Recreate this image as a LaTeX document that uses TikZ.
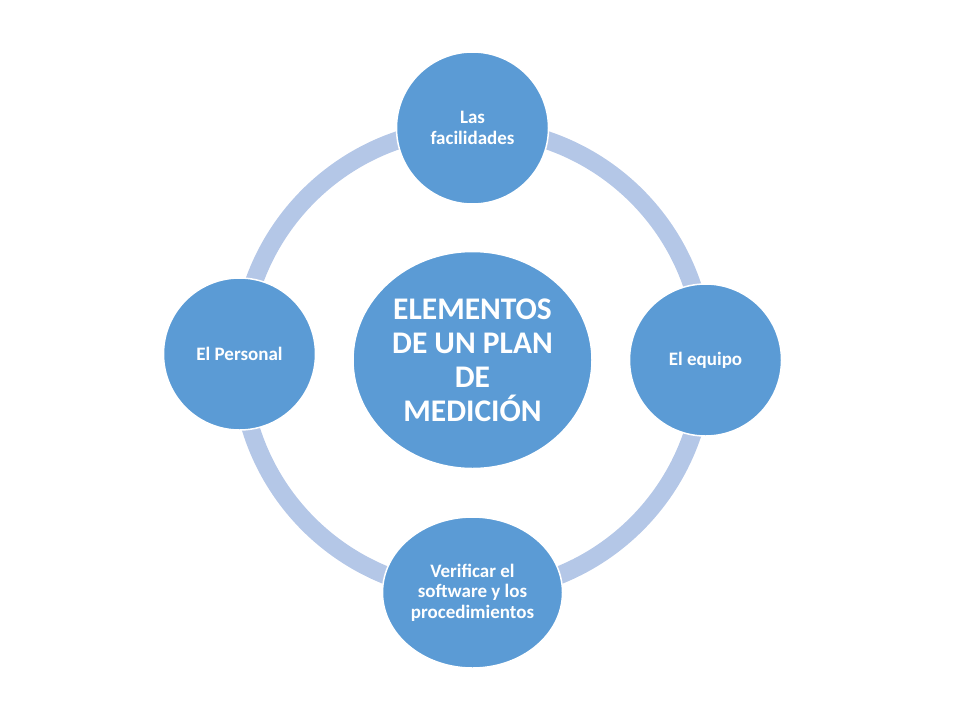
\documentclass[tikz,border=0pt]{standalone}
\usepackage{fontspec}
\setmainfont{Carlito}
\usepackage{xcolor}
\usetikzlibrary{positioning,shapes.geometric}
\definecolor{midBlue}{HTML}{5B9BD5}
\definecolor{paleBlue}{HTML}{B4C7E7}
\tikzstyle{nodeBlue} =[circle,fill=midBlue,draw=white,line width=1.5pt,text=white,align=center,inner sep=0pt,minimum size=152pt,font=\bfseries\fontsize{19}{20.5}\selectfont]
\tikzstyle{nodeCore} =[ellipse,fill=midBlue,draw=white,line width=1.5pt,text=white,align=center,inner sep=0pt,minimum width=239pt,minimum height=217pt,font=\bfseries\fontsize{31.5}{34}\selectfont]
\tikzstyle{ringLine} =[draw=paleBlue,line width=18pt]

\begin{document}
\begin{tikzpicture}[x=1pt,y=1pt,on grid]
      \useasboundingbox (0,0) rectangle (960,-720);
      \coordinate (mid) at (472.5,-360);
      \draw[ringLine] (mid) circle (232pt);
      \node[nodeCore] (plan) at (mid) {ELEMENTOS\\DE UN PLAN\\DE\\MEDICIÓN};
      \node[nodeBlue] (facil) [above = 232pt of mid, anchor=center] {Las\\facilidades};
      \node[nodeBlue] (equipo) [right = 233pt of mid, anchor=center] {El equipo};
      \node[nodeBlue, ellipse, minimum width=180pt, minimum height=151pt] (verif) [below = 232.5pt of mid, anchor=center] {Verificar el\\software y los\\procedimientos};
      \node[nodeBlue] (personal) [above left = 6pt and 233pt of mid, anchor=center] {El Personal};
    \end{tikzpicture}
\end{document}
